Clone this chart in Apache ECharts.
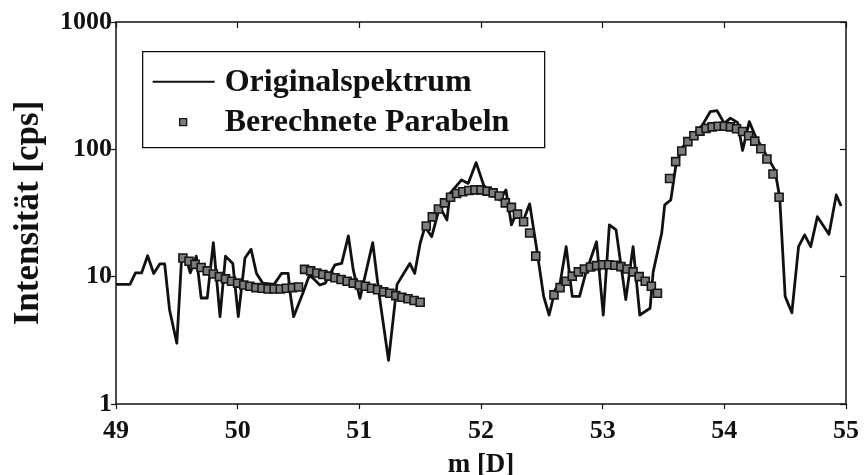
<!DOCTYPE html>
<html>
<head>
<meta charset="utf-8">
<script src="https://cdn.jsdelivr.net/npm/echarts@6/dist/echarts.min.js"></script>
<style>
  html, body { margin: 0; padding: 0; background: #fff; }
  #chart { width: 867px; height: 475px; }
</style>
</head>
<body>
<div id="chart"></div>
<script>
// Measured spectrum (mass in D, intensity in cps)
const specX = [49.00, 49.115, 49.16, 49.21, 49.26, 49.31, 49.36, 49.40, 49.44, 49.50,
  49.54, 49.585, 49.61, 49.66, 49.70, 49.75, 49.80, 49.855, 49.90, 49.96,
  50.005, 50.06, 50.11, 50.155, 50.205, 50.30, 50.36, 50.415, 50.43, 50.46,
  50.54, 50.59, 50.635, 50.675, 50.72, 50.80, 50.855, 50.91, 50.95, 51.005,
  51.11, 51.165, 51.24, 51.31, 51.415, 51.455, 51.50, 51.54, 51.595, 51.66,
  51.72, 51.745, 51.84, 51.895, 51.96, 52.03, 52.10, 52.155, 52.205, 52.25,
  52.29, 52.35, 52.40, 52.455, 52.515, 52.56, 52.61, 52.65, 52.70, 52.75,
  52.81, 52.86, 52.95, 53.005, 53.055, 53.11, 53.19, 53.25, 53.305, 53.39,
  53.415, 53.485, 53.51, 53.56, 53.60, 53.65, 53.73, 53.82, 53.885, 53.94,
  54.00, 54.05, 54.11, 54.15, 54.205, 54.25, 54.32, 54.415, 54.455, 54.50,
  54.555, 54.61, 54.66, 54.71, 54.765, 54.86, 54.92, 54.96];
const specY = [8.7, 8.7, 10.7, 10.7, 14.6, 10.6, 12.6, 12.6, 5.5, 3.0,
  14.4, 13.1, 10.7, 14.5, 6.8, 6.8, 18.5, 4.85, 14.5, 12.7,
  4.85, 14.0, 16.4, 10.6, 8.9, 8.7, 10.6, 10.6, 7.6, 4.85,
  7.6, 10.3, 9.4, 8.6, 8.9, 12.4, 12.7, 20.9, 11.3, 6.75,
  18.5, 7.0, 2.2, 8.7, 12.7, 10.6, 18.3, 24.7, 20.6, 35.5,
  27.9, 45, 57.5, 54, 78.7, 49.5, 44, 40, 48, 25.5,
  31.5, 27.9, 37.3, 17.2, 7.0, 5.0, 7.9, 8.9, 17.2, 7.0,
  7.0, 10.6, 18.8, 5.0, 25.5, 23.3, 6.6, 17.2, 5.0, 5.65,
  10.9, 21.9, 36.6, 40, 73, 102, 126, 155, 198, 201,
  160, 176, 162, 98, 165, 130, 99, 69, 42, 7.0,
  5.2, 17.2, 21.3, 17.2, 29.6, 21.5, 43.8, 35.9];

// Fitted parabolas, one per mass window
const fit1X = [49.55, 49.60, 49.65, 49.70, 49.75, 49.80, 49.85, 49.90, 49.95, 50.00,
  50.05, 50.10, 50.15, 50.20, 50.25, 50.30, 50.35, 50.40, 50.45, 50.50];
const fit1Y = [14.0, 13.2, 12.5, 11.8, 11.1, 10.5, 10.0, 9.6, 9.2, 8.9,
  8.6, 8.4, 8.2, 8.1, 8.0, 8.0, 8.0, 8.1, 8.2, 8.3];
const fit2X = [50.55, 50.60, 50.65, 50.70, 50.75, 50.80, 50.85, 50.90, 50.95, 51.00,
  51.05, 51.10, 51.15, 51.20, 51.25, 51.30, 51.35, 51.40, 51.45, 51.50];
const fit2Y = [11.4, 11.1, 10.7, 10.4, 10.1, 9.8, 9.5, 9.2, 8.9, 8.6,
  8.4, 8.1, 7.9, 7.6, 7.4, 7.1, 6.9, 6.7, 6.5, 6.3];
const fit3X = [51.55, 51.60, 51.65, 51.70, 51.75, 51.80, 51.85, 51.90, 51.95, 52.00,
  52.05, 52.10, 52.15, 52.20, 52.25, 52.30, 52.35, 52.40, 52.45];
const fit3Y = [25.0, 29.5, 34.0, 38.0, 42.0, 45.0, 46.5, 47.5, 48.0, 48.0,
  47.0, 45.5, 43.0, 38.0, 35.0, 31.0, 27.0, 22.0, 14.5];
const fit4X = [52.60, 52.65, 52.70, 52.75, 52.80, 52.85, 52.90, 52.95, 53.00,
  53.05, 53.10, 53.15, 53.20, 53.25, 53.30, 53.35, 53.40, 53.45];
const fit4Y = [7.2, 8.2, 9.2, 10.1, 10.9, 11.5, 11.9, 12.2, 12.4,
  12.4, 12.3, 12.0, 11.5, 10.9, 10.0, 9.2, 8.4, 7.4];
const fit5X = [53.55, 53.60, 53.65, 53.70, 53.75, 53.80, 53.85, 53.90, 53.95, 54.00,
  54.05, 54.10, 54.15, 54.20, 54.25, 54.30, 54.35, 54.40, 54.45];
const fit5Y = [59, 80, 97, 115, 128, 139, 146, 150, 152, 152,
  150, 145, 138, 128, 116, 101, 84, 64, 42];

const massTicks = [49, 50, 51, 52, 53, 54, 55];
const seriesNames = ['Originalspektrum', 'Berechnete Parabeln'];

const zip = (xs, ys) => xs.map((x, i) => [x, ys[i]]);
const fitPoints = []
  .concat(zip(fit1X, fit1Y), zip(fit2X, fit2Y), zip(fit3X, fit3Y),
          zip(fit4X, fit4Y), zip(fit5X, fit5Y));

const FONT = 'Liberation Serif';
const INK = '#111';
const labelStyle = { fontFamily: FONT, fontWeight: 'bold', color: INK, fontSize: 26 };
const nameStyle = { fontFamily: FONT, fontWeight: 'bold', color: INK, fontSize: 27 };
const SQUARE_FILL = '#7d7d7d';
const SQUARE_EDGE = '#161616';

const chart = echarts.init(document.getElementById('chart'), null, { renderer: 'canvas' });

const axisLine = { show: true, lineStyle: { color: INK, width: 1.5 } };
const tickLine = { color: INK, width: 1.2 };

chart.setOption({
  animation: false,
  backgroundColor: '#fff',
  grid: { left: 116, right: 21, top: 22, bottom: 71, containLabel: false, outerBoundsMode: 'none' },
  xAxis: [
    {
      type: 'value', position: 'bottom', min: massTicks[0], max: massTicks[massTicks.length - 1], interval: 1,
      axisLine, axisTick: { show: true, inside: false, length: 5, lineStyle: tickLine },
      axisLabel: Object.assign({ margin: 14 }, labelStyle),
      splitLine: { show: false },
      name: 'm [D]', nameLocation: 'middle', nameGap: 48,
      nameTextStyle: nameStyle
    },
    {
      type: 'value', position: 'top', min: massTicks[0], max: massTicks[massTicks.length - 1], interval: 1,
      axisLine, axisTick: { show: true, inside: true, length: 6, lineStyle: tickLine },
      axisLabel: { show: false }, splitLine: { show: false }
    }
  ],
  yAxis: [
    {
      type: 'log', logBase: 10, min: 1, max: 1000, position: 'left',
      axisLine, axisTick: { show: true, inside: false, length: 5, lineStyle: tickLine },
      axisLabel: Object.assign({ margin: 4, formatter: v => String(v) }, labelStyle),
      minorTick: { show: false }, splitLine: { show: false },
      name: 'Intensität [cps]', nameLocation: 'middle', nameGap: 70, nameRotate: 90,
      nameTextStyle: Object.assign({}, nameStyle, { fontSize: 35 })
    },
    {
      type: 'log', logBase: 10, min: 1, max: 1000, position: 'right',
      axisLine, axisTick: { show: true, inside: true, length: 6, lineStyle: tickLine },
      axisLabel: { show: false }, splitLine: { show: false }
    }
  ],
  series: [
    {
      name: seriesNames[0], type: 'line', xAxisIndex: 0, yAxisIndex: 0,
      data: zip(specX, specY), showSymbol: false, symbol: 'none',
      lineStyle: { color: INK, width: 2.8, join: 'round' }, z: 2
    },
    {
      name: seriesNames[1], type: 'scatter', xAxisIndex: 0, yAxisIndex: 0,
      data: fitPoints, symbol: 'rect', symbolSize: 8,
      itemStyle: { color: SQUARE_FILL, borderColor: SQUARE_EDGE, borderWidth: 1.6, opacity: 1 }, z: 3
    }
  ],
  graphic: [
    {
      type: 'group', left: 142, top: 51,
      children: [
        { type: 'rect', shape: { x: 0, y: 0, width: 402, height: 96 },
          style: { fill: '#fff', stroke: INK, lineWidth: 1.3 } },
        { type: 'line', shape: { x1: 10, y1: 30, x2: 72, y2: 30 },
          style: { stroke: INK, lineWidth: 2 } },
        { type: 'text', x: 82, y: 31,
          style: { text: seriesNames[0], font: 'bold 32px "' + FONT + '"', fill: INK, verticalAlign: 'middle' } },
        { type: 'rect', shape: { x: 37, y: 67, width: 7, height: 7 },
          style: { fill: SQUARE_FILL, stroke: SQUARE_EDGE, lineWidth: 1.4 } },
        { type: 'text', x: 82, y: 71,
          style: { text: seriesNames[1], font: 'bold 32px "' + FONT + '"', fill: INK, verticalAlign: 'middle' } }
      ]
    }
  ]
});
</script>
</body>
</html>
